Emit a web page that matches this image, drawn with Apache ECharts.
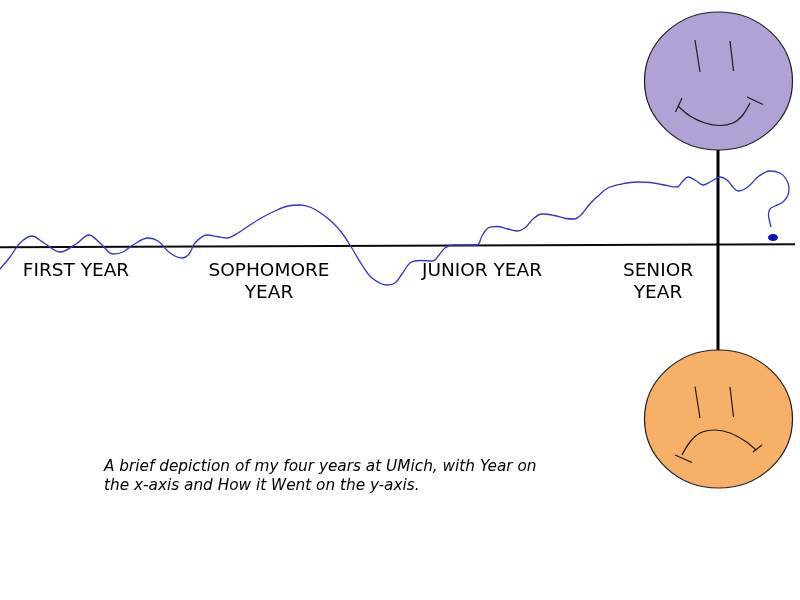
<!DOCTYPE html>
<html><head><meta charset="utf-8">
<style>html,body{margin:0;padding:0;background:#fff}#c{width:800px;height:600px}</style>
<script src="https://cdn.jsdelivr.net/npm/echarts@6/dist/echarts.min.js"></script>
</head><body><div id="c"></div>
<script>
// Journey curve: [year position, how it went (smaller = better)]
const journey = [[0,269],[10,257],[20,243],[32,236],[44,243],[60,252],[76,244],[89,235],[101,244],[113,254],[123,252],[133,245],[148,238],[158,241],[170,253],[182,258],[189,254],[195,243],[207,235],[217,236.5],[227,238],[238,233],[250,225],[263,217],[277,210],[288,206],[300,205],[311,207.5],[322,214],[332,222],[342,233],[353,250],[362,265],[372,278],[387,285],[395,283],[402,274],[410,263],[420,260.5],[433,261],[439,255],[445,248],[453,245],[465,245],[477,245],[482,236],[488,228],[497,226.5],[508,229],[518,231],[526,227],[533,219],[542,214],[554,215.5],[566,218.5],[574,219],[581,215],[589,205],[598,196],[608,188],[622,184],[637,182],[650,182.5],[664,185],[677,187],[682,182],[688,177],[695,180],[703,185],[711,181.5],[720,177],[727,180],[733,187],[738,191],[744,189.5],[750,185],[759,176],[770,171],[780,173],[786,179],[789,187],[788,195],[783,202],[775,206],[770,209],[768.5,215],[769.5,221],[771,227]];
const endDot = [[773,237.5]];
const xAxisLine = [[0,247.3],[795,244.3]];
const yAxisLine = [[718,150],[718,350]];
const faces = [[718.5,81],[718.5,419]];
const faceColors = ['#b0a2d4','#f6b067'];
const faceStrokes = [
  [[695,40],[700,72]], [[730,41],[733.5,71]],
  [[675.5,112],[682,98]], [[747,97],[763,104.5]],
  [[695,386.5],[700,418]], [[730,387],[733.5,417]],
  [[675,455],[692,462.5]], [[753,452],[762,445]]
];
const smile = [[678,106],[690,116],[705,123],[720,125.5],[733,123],[742,116],[750,103]];
const frown = [[682,455],[690,442],[700,433],[715,430],[730,433],[745,441],[756,450]];
const yearLabels = [
  {at:[76,271], text:'FIRST YEAR'},
  {at:[269,282], text:'SOPHOMORE\nYEAR'},
  {at:[482,271], text:'JUNIOR YEAR'},
  {at:[658,282], text:'SENIOR\nYEAR'}
];
const captionAt = [[104,476.5]];
const caption = 'A brief depiction of my four years at UMich, with Year on\nthe x-axis and How it Went on the y-axis.';

const FONT = '"DejaVu Sans", sans-serif';
const ink = '#1a1a1a';
const stroke = (name, data, smooth) => ({
  type:'line', name, data, smooth: smooth||false, showSymbol:false, symbol:'none', z:6, silent:true,
  lineStyle:{color:ink, width:1.2}
});
const series = [
  {type:'line', name:'Year', data:xAxisLine, symbol:'none', z:2, lineStyle:{color:'#0a0a0a',width:2}},
  {type:'line', name:'How it went', data:yAxisLine, symbol:'none', z:2, lineStyle:{color:'#000',width:3}},
  {type:'scatter', name:'Faces', z:4, symbol:'circle', symbolSize:[148,138],
   data:faces.map((p,i)=>({value:p, itemStyle:{color:faceColors[i], opacity:1, borderColor:'#222', borderWidth:1.2}}))},
  ...faceStrokes.map((s,i)=>stroke('stroke'+i, s)),
  stroke('smile', smile, 0.36),
  stroke('frown', frown, 0.36),
  {type:'line', name:'Journey', data:journey, smooth:0.36, symbol:'none', z:5, lineStyle:{color:'#3333cc',width:1.3}},
  {type:'scatter', name:'End', data:endDot, symbol:'circle', symbolSize:[10,7], z:5, itemStyle:{color:'#0a10c0',opacity:1}},
  {type:'scatter', name:'Year labels', symbolSize:0, z:7, itemStyle:{opacity:1},
   data:yearLabels.map(l=>({value:l.at, label:{show:true, position:'inside', formatter:l.text, align:'center', verticalAlign:'middle',
     fontFamily:FONT, fontSize:18.5, lineHeight:22, color:'#000', opacity:1}}))},
  {type:'scatter', name:'Caption', symbolSize:0, z:7, data:captionAt, itemStyle:{opacity:1},
   label:{show:true, position:'inside', formatter:caption, align:'left', verticalAlign:'middle',
     fontFamily:FONT, fontStyle:'italic', fontSize:15.3, lineHeight:19.5, color:'#000', opacity:1}}
];
const chart = echarts.init(document.getElementById('c'), null, {renderer:'canvas'});
chart.setOption({
  animation:false, backgroundColor:'#fff',
  grid:{left:0,right:0,top:0,bottom:0},
  xAxis:{type:'value',min:0,max:800,show:false},
  yAxis:{type:'value',min:0,max:600,inverse:true,show:false},
  series
});
</script></body></html>
